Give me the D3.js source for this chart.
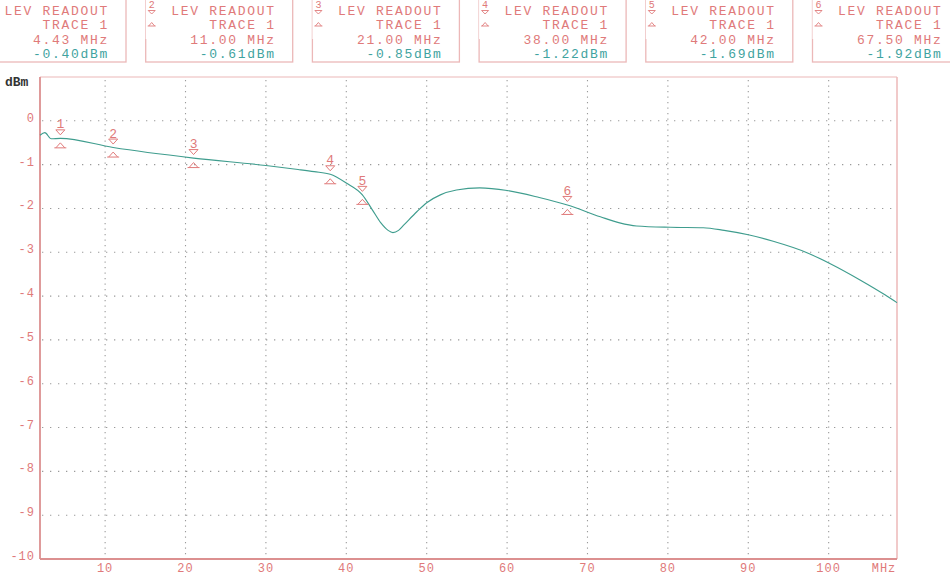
<!DOCTYPE html>
<html>
<head>
<meta charset="utf-8">
<script src="https://cdn.jsdelivr.net/npm/d3@7"></script>
<style>
  html, body { margin: 0; padding: 0; background: #fff; }
  svg { display: block; }
  text { font-family: "Liberation Mono", "DejaVu Sans Mono", monospace; }
</style>
</head>
<body>
<svg id="chart" width="950" height="580"></svg>
<script>
// ---- data ----
const freqMHz = [1.9, 2.5, 3.3, 4.43, 11, 21, 30, 34, 36, 38, 40, 42, 43.2, 44.3, 45.2, 45.8, 46.5, 47.2, 48.8, 50, 51.7, 53.7, 56.6, 60, 64, 67.5, 71.6, 74, 76.1, 80.3, 84.4, 87, 90, 93.1, 97.3, 100.2, 103.9, 107, 108.5];
const levelDbm = [-0.33, -0.27, -0.41, -0.40, -0.61, -0.85, -1.02, -1.11, -1.16, -1.22, -1.42, -1.69, -2.02, -2.33, -2.50, -2.55, -2.50, -2.37, -2.07, -1.87, -1.69, -1.58, -1.53, -1.59, -1.75, -1.92, -2.19, -2.33, -2.40, -2.43, -2.44, -2.50, -2.60, -2.75, -3.01, -3.26, -3.63, -3.97, -4.15];
const markerIds = [1, 2, 3, 4, 5, 6];
const markerFreq = [4.43, 11.00, 21.00, 38.00, 42.00, 67.50];
const markerLevel = [-0.40, -0.61, -0.85, -1.22, -1.69, -1.92];
const xTicks = [10, 20, 30, 40, 50, 60, 70, 80, 90, 100];
const yTicks = [0, -1, -2, -3, -4, -5, -6, -7, -8, -9, -10];
const xUnit = "MHz";
const yUnit = "dBm";
const panelTitle = "LEV READOUT";
const panelTrace = "TRACE 1";

// ---- styles ----
const PINK = "#e07a7a";
const FRAME = "#ecb8b8";
const AXIS = "#dc9090";
const GRID = "#9a9a9a";
const TRACE = "#3f9d8e";
const TEAL = "#3fa3a0";

const svg = d3.select("#chart");
const L = 40, R = 897, T = 77, B = 559;

const x = d3.scaleLinear().domain([1.9, 108.5]).range([L, R]);
const y = d3.scaleLinear().domain([-10, 1]).range([B, T]);

// ---- readout panels ----
const pw = 147, pstep = 166.7, p0 = -21;
const panels = svg.append("g").selectAll("g").data(markerIds).join("g")
  .attr("transform", (d, i) => `translate(${p0 + i * pstep},0)`);
panels.append("rect").attr("x", 0).attr("y", -1).attr("width", pw).attr("height", 63)
  .attr("fill", "none").attr("stroke", FRAME).attr("stroke-width", 1.3);
panels.append("rect").attr("x", 0).attr("y", -1).attr("width", 14).attr("height", 40).attr("fill", "#fff");
function addText(sel, yy, fn, color) {
  sel.append("text").attr("x", 130).attr("y", yy).attr("text-anchor", "end")
    .attr("font-size", 13).attr("letter-spacing", "1.7px").attr("fill", color).text(fn);
}
addText(panels, 15, () => panelTitle, PINK);
addText(panels, 29, () => panelTrace, PINK);
addText(panels, 44, (d, i) => markerFreq[i].toFixed(2) + " " + xUnit, PINK);
addText(panels, 58, (d, i) => markerLevel[i].toFixed(2) + "dBm", TEAL);
// panel marker icons (first panel's icon lies outside the picture)
const visPanels = panels.filter((d, i) => p0 + i * pstep >= 0);
visPanels.append("text").attr("x", 6).attr("y", 8).attr("text-anchor", "middle")
  .attr("font-size", 10).attr("fill", PINK).text(d => d);
visPanels.append("path").attr("d", "M2.5,10.5 L9.5,10.5 L6,14 Z")
  .attr("fill", "none").attr("stroke", PINK).attr("stroke-width", 0.9);
visPanels.append("path").attr("d", "M2,26 L10,26 M3,26 L6,22.5 L9,26")
  .attr("fill", "none").attr("stroke", PINK).attr("stroke-width", 0.9);

// ---- grid ----
const g = svg.append("g");
g.append("g").selectAll("line").data(yTicks.filter(v => v > -10)).join("line")
  .attr("x1", L + 2).attr("x2", R - 2).attr("y1", d => y(d)).attr("y2", d => y(d))
  .attr("stroke", GRID).attr("stroke-width", 1.1).attr("stroke-dasharray", "1.3,6.7");
g.append("g").selectAll("line").data(xTicks).join("line")
  .attr("x1", d => x(d)).attr("x2", d => x(d)).attr("y1", T + 3).attr("y2", B)
  .attr("stroke", GRID).attr("stroke-width", 1.1).attr("stroke-dasharray", "1.3,4.2");

// ---- frame ----
g.append("line").attr("x1", L).attr("x2", R).attr("y1", T).attr("y2", T).attr("stroke", FRAME).attr("stroke-width", 1.2);
g.append("line").attr("x1", R).attr("x2", R).attr("y1", T).attr("y2", B).attr("stroke", FRAME).attr("stroke-width", 1.5);
g.append("line").attr("x1", L).attr("x2", L).attr("y1", T).attr("y2", B).attr("stroke", AXIS).attr("stroke-width", 1.8);
g.append("line").attr("x1", L).attr("x2", R).attr("y1", B).attr("y2", B).attr("stroke", AXIS).attr("stroke-width", 2);

// ---- axis labels ----
g.append("g").selectAll("text").data(yTicks).join("text")
  .attr("x", 35).attr("y", d => y(d) + 1).attr("text-anchor", "end")
  .attr("font-size", 12).attr("letter-spacing", "1px").attr("fill", PINK).text(d => d);
g.append("g").selectAll("text").data(xTicks).join("text")
  .attr("x", d => x(d)).attr("y", 572).attr("text-anchor", "middle")
  .attr("font-size", 12).attr("letter-spacing", "1px").attr("fill", PINK).text(d => d);
g.append("text").attr("x", 884).attr("y", 572).attr("text-anchor", "middle")
  .attr("font-size", 12).attr("letter-spacing", "1px").attr("fill", PINK).text(xUnit);
g.append("text").attr("x", 5).attr("y", 86)
  .attr("font-size", 13).attr("font-weight", "bold").attr("fill", "#333").text(yUnit);

// ---- trace ----
const pts = freqMHz.map((f, i) => [f, levelDbm[i]]);
g.append("path").datum(pts)
  .attr("d", d3.line().x(d => x(d[0])).y(d => y(d[1])).curve(d3.curveMonotoneX))
  .attr("fill", "none").attr("stroke", TRACE).attr("stroke-width", 1.15);

// ---- markers ----
const mk = g.append("g").selectAll("g").data(markerIds).join("g")
  .attr("transform", (d, i) => `translate(${x(markerFreq[i])},${y(markerLevel[i])})`);
mk.append("text").attr("x", 0).attr("y", -10).attr("text-anchor", "middle")
  .attr("font-size", 13).attr("fill", PINK).text(d => d);
mk.append("path").attr("d", "M-4.5,-8.5 L4.5,-8.5 L0,-3.5 Z")
  .attr("fill", "none").attr("stroke", PINK).attr("stroke-width", 1);
mk.append("path").attr("d", "M-6,9.5 L6,9.5 M-4.5,9.5 L0,4.5 L4.5,9.5")
  .attr("fill", "none").attr("stroke", PINK).attr("stroke-width", 1);
</script>
</body>
</html>
